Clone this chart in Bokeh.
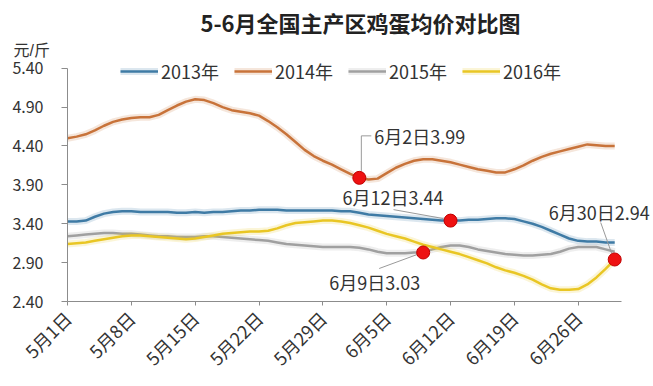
import math
from bokeh.plotting import figure
from bokeh.models import Range1d, FixedTicker, PrintfTickFormatter, Label, Legend, LegendItem, Title
from bokeh.embed import file_html
from bokeh.resources import INLINE

# ---------------- data ----------------
days = list(range(61))  # 0 = 5月1日 ... 60 = 6月30日

price_2013 = [3.43, 3.43, 3.44, 3.49, 3.53, 3.55, 3.56, 3.56, 3.55, 3.55,
              3.55, 3.55, 3.54, 3.54, 3.55, 3.54, 3.55, 3.55, 3.56, 3.57,
              3.57, 3.58, 3.58, 3.58, 3.57, 3.57, 3.57, 3.57, 3.57, 3.57,
              3.56, 3.56, 3.54, 3.52, 3.51, 3.50, 3.49, 3.48, 3.47, 3.46,
              3.45, 3.44, 3.44, 3.44, 3.45, 3.45, 3.46, 3.47, 3.47, 3.46,
              3.43, 3.40, 3.36, 3.31, 3.26, 3.21, 3.18, 3.17, 3.17, 3.16,
              3.16]
price_2014 = [4.50, 4.52, 4.55, 4.60, 4.66, 4.71, 4.74, 4.76, 4.77, 4.77,
              4.80, 4.86, 4.92, 4.97, 5.00, 4.99, 4.95, 4.90, 4.86, 4.84,
              4.82, 4.79, 4.72, 4.64, 4.55, 4.45, 4.35, 4.27, 4.21, 4.16,
              4.10, 4.04, 3.99, 3.97, 3.98, 4.05, 4.12, 4.17, 4.21, 4.23,
              4.23, 4.21, 4.19, 4.16, 4.13, 4.10, 4.08, 4.06, 4.06, 4.10,
              4.15, 4.21, 4.26, 4.30, 4.33, 4.36, 4.39, 4.42, 4.41, 4.40,
              4.40]
price_2015 = [3.24, 3.25, 3.26, 3.27, 3.28, 3.28, 3.27, 3.27, 3.26, 3.25,
              3.24, 3.24, 3.23, 3.23, 3.23, 3.24, 3.24, 3.23, 3.22, 3.21,
              3.20, 3.19, 3.18, 3.16, 3.14, 3.13, 3.12, 3.11, 3.10, 3.10,
              3.10, 3.10, 3.09, 3.07, 3.04, 3.02, 3.02, 3.02, 3.03, 3.03,
              3.07, 3.10, 3.12, 3.12, 3.10, 3.07, 3.05, 3.03, 3.01, 3.00,
              2.99, 2.99, 3.00, 3.01, 3.04, 3.08, 3.10, 3.10, 3.10, 3.07,
              3.04]
price_2016 = [3.14, 3.15, 3.16, 3.18, 3.20, 3.22, 3.24, 3.25, 3.25, 3.24,
              3.23, 3.22, 3.21, 3.20, 3.21, 3.23, 3.25, 3.27, 3.28, 3.29,
              3.30, 3.30, 3.31, 3.34, 3.38, 3.41, 3.42, 3.43, 3.44, 3.44,
              3.43, 3.41, 3.38, 3.35, 3.31, 3.27, 3.24, 3.21, 3.17, 3.13,
              3.10, 3.07, 3.04, 3.01, 2.97, 2.93, 2.89, 2.84, 2.80, 2.77,
              2.73, 2.68, 2.62, 2.57, 2.55, 2.55, 2.56, 2.62, 2.71, 2.82,
              2.94]

series_names = ["2013年", "2014年", "2015年", "2016年"]
series_values = [price_2013, price_2014, price_2015, price_2016]
series_colors = ["#3f7ba5", "#c8733a", "#a0a0a0", "#e9c624"]

tick_days = [0, 7, 14, 21, 28, 35, 42, 49, 56]
tick_labels = ["5月1日", "5月8日", "5月15日", "5月22日", "5月29日",
               "6月5日", "6月12日", "6月19日", "6月26日"]
y_ticks = [2.40, 2.90, 3.40, 3.90, 4.40, 4.90, 5.40]

ann_days = [32, 42, 39, 60]
ann_values = [3.99, 3.44, 3.03, 2.94]
ann_texts = ["6月2日3.99", "6月12日3.44", "6月9日3.03", "6月30日2.94"]

title_text = "5-6月全国主产区鸡蛋均价对比图"
unit_text = "元/斤"

# ---------------- layout ----------------
FONT = "Noto Sans CJK SC"
W, H = 653, 386
ML, MR, MT, MB = 67, 0, 58, 85
FW = W - ML - MR
FH = H - MT - MB
PX_DAY = 9.12
PX_UNIT = 77.77
AXIS_RIGHT = 554          # px from frame left where the x axis line ends
x_end = FW / PX_DAY
y_end = 2.40 + FH / PX_UNIT

p = figure(width=W, height=H, output_backend="svg", toolbar_location=None,
           x_range=Range1d(0, x_end), y_range=Range1d(2.40, y_end),
           min_border_left=ML, min_border_right=MR,
           min_border_top=MT, min_border_bottom=MB)
p.outline_line_color = None
p.xgrid.visible = False
p.ygrid.visible = False
p.background_fill_color = "white"
p.border_fill_color = "white"

# axes
p.yaxis.ticker = FixedTicker(ticks=y_ticks)
p.yaxis.formatter = PrintfTickFormatter(format="%.2f")
p.yaxis.bounds = (2.40, 5.40)
p.yaxis.axis_line_color = "#8c8c8c"
p.yaxis.major_tick_line_color = "#8c8c8c"
p.yaxis.major_tick_out = 6
p.yaxis.major_tick_in = 0
p.yaxis.minor_tick_line_color = None
p.yaxis.major_label_standoff = 18
p.yaxis.major_label_text_font = FONT
p.yaxis.major_label_text_font_size = "16px"
p.yaxis.major_label_text_color = "#333333"

p.xaxis.ticker = FixedTicker(ticks=tick_days)
p.xaxis.major_label_overrides = {d: t for d, t in zip(tick_days, tick_labels)}
p.xaxis.major_label_orientation = math.pi / 4
p.xaxis.bounds = (0, AXIS_RIGHT / PX_DAY)
p.xaxis.axis_line_color = "#8c8c8c"
p.xaxis.major_tick_line_color = "#8c8c8c"
p.xaxis.major_tick_out = 4
p.xaxis.major_tick_in = 0
p.xaxis.minor_tick_line_color = None
p.xaxis.major_label_standoff = 9
p.xaxis.major_label_text_font = FONT
p.xaxis.major_label_text_font_size = "18px"
p.xaxis.major_label_text_color = "#333333"

# series
items = []
for name, vals, col in zip(series_names, series_values, series_colors):
    glow = p.line(days, vals, line_color=col, line_width=7, line_alpha=0.18)
    ln = p.line(days, vals, line_color=col, line_width=2.5)
    items.append(LegendItem(label=name, renderers=[glow, ln]))

legend = Legend(items=items, orientation="horizontal", location=(53, 217))
legend.glyph_width = 38
legend.glyph_height = 22
legend.label_height = 22
legend.label_width = 58
legend.label_standoff = 3
legend.spacing = 15
legend.padding = 2
legend.margin = 0
legend.border_line_color = None
legend.background_fill_alpha = 0
legend.label_text_font = FONT
legend.label_text_font_size = "18px"
legend.label_text_color = "#333333"
p.add_layout(legend, "center")

# annotations: leader lines, dots, labels (offsets in pixels, y up)
ann_style = [
    dict(tx=15, ty=42, align="left", lead=[(2, 7), (2, 42), (12, 42)]),
    dict(tx=-7, ty=24, align="right", lead=[(-57, 11), (-7, 2)]),
    dict(tx=-3, ty=-29, align="right", lead=[(-44, -16), (-6, -2)]),
    dict(tx=-66, ty=48, align="left", lead=[(-14, 37), (-3, 6)]),
]
lx, ly = [], []
for d, v, st in zip(ann_days, ann_values, ann_style):
    lx.append([d + ox / PX_DAY for ox, oy in st["lead"]])
    ly.append([v + oy / PX_UNIT for ox, oy in st["lead"]])
p.multi_line(lx, ly, line_color="#9a9a9a", line_width=1)
p.scatter(ann_days, ann_values, size=13, fill_color="#ee1111",
          line_color="#c00000", line_width=1)
for d, v, t, st in zip(ann_days, ann_values, ann_texts, ann_style):
    p.add_layout(Label(x=d, y=v, x_offset=st["tx"], y_offset=st["ty"], text=t,
                       text_align=st["align"], text_baseline="middle",
                       text_font=FONT, text_font_size="18px",
                       text_color="#333333"))

# unit and title in the top panel
p.add_layout(Title(text=unit_text, align="left", offset=-54, standoff=0,
                   text_font="Liberation Sans, Noto Sans CJK SC",
                   text_font_size="16px",
                   text_font_style="normal", text_color="#333333"), "above")
p.add_layout(Title(text=title_text, align="center", offset=-33, standoff=4,
                   text_font=FONT, text_font_size="22px",
                   text_font_style="bold", text_color="#222222"), "above")

open("out.html", "w").write(file_html(p, INLINE))
